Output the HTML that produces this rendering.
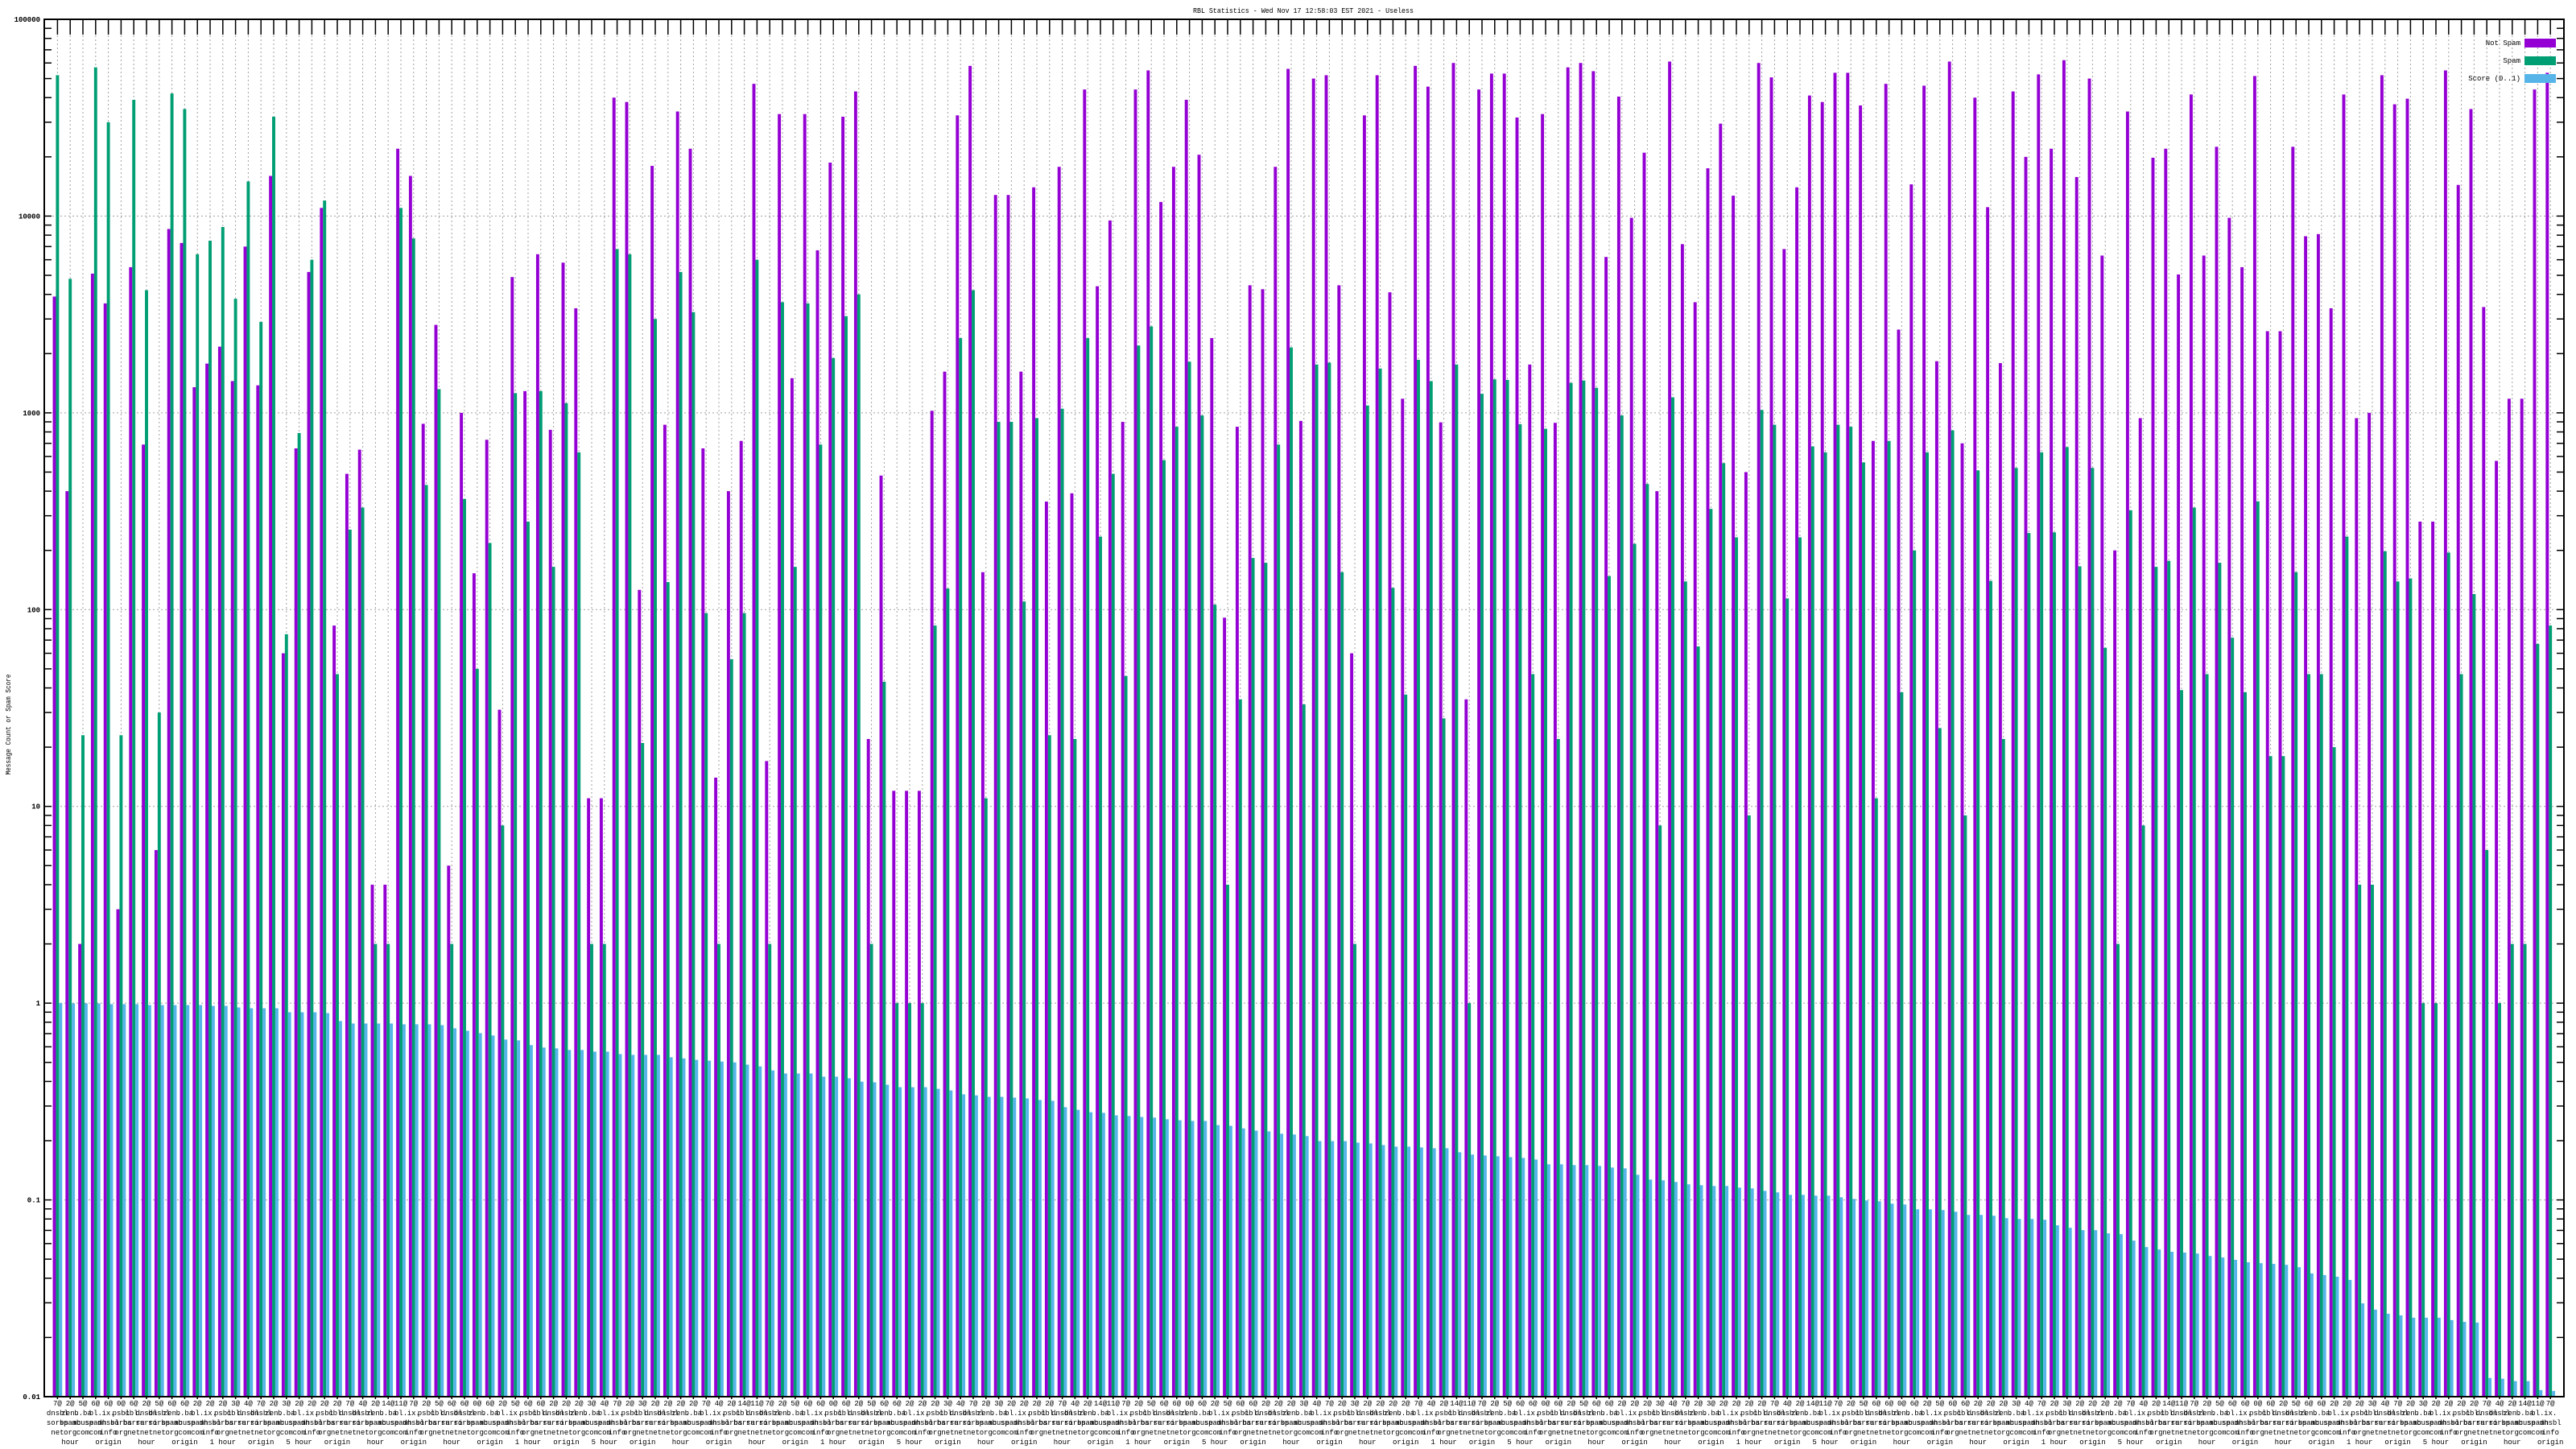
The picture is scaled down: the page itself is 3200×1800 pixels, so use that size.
<!DOCTYPE html>
<html><head><meta charset="utf-8"><title>RBL Statistics</title>
<style>
html,body{margin:0;padding:0;background:#fff;width:3200px;height:1800px;overflow:hidden}
svg{display:block}
text{font-family:"Liberation Mono",monospace;fill:#000}
</style></head>
<body>
<svg id="chart" width="3200" height="1800" viewBox="0 0 3200 1800" xmlns="http://www.w3.org/2000/svg">
<rect x="0" y="0" width="3200" height="1800" fill="#fff"/>
<text x="1619" y="16" font-size="9.5" text-anchor="middle" textLength="274" lengthAdjust="spacingAndGlyphs">RBL Statistics - Wed Nov 17 12:58:03 EST 2021 - Useless</text>
<text x="0" y="0" font-size="9" text-anchor="middle" transform="translate(13,900) rotate(-90)" textLength="125" lengthAdjust="spacingAndGlyphs">Message Count or Spam Score</text>
<g id="grid"></g>
<g id="bars"></g>
<g id="axes"></g>
<g id="xlabels"></g>
<g id="legend">
  <g>
    <text x="3131" y="56" font-size="9" text-anchor="end">Not Spam</text>
    <rect x="3136" y="48" width="39" height="11" fill="#9400d3"/>
  </g>
  <g>
    <text x="3131" y="78" font-size="9" text-anchor="end">Spam</text>
    <rect x="3136" y="70" width="39" height="11" fill="#009e73"/>
  </g>
  <g>
    <text x="3131" y="100" font-size="9" text-anchor="end">Score (0..1)</text>
    <rect x="3136" y="92" width="39" height="11" fill="#56b4e9"/>
  </g>
</g>
</svg>
<script>
const notSpam = [3900,400,2,5100,3600,3,5500,690,6,8600,7300,1350,1780,2170,1450,7000,1380,16000,60,660,5200,11000,83,490,650,4,4,22000,16000,880,2800,5,1000,153,730,31,4900,1290,6400,820,5800,3400,11,11,40000,38000,126,18000,870,34000,
22000,660,14,400,720,47000,17,33000,1500,33000,6700,18700,32000,43000,22,480,12,12,12,1025,1620,32500,58000,155,12800,12800,1620,14000,354,17800,390,44000,4400,9500,900,44000,55000,11800,17800,39000,20500,2400,91,850,4450,4250,17800,56000,910,50000,
52000,4450,60,32500,52000,4100,1180,58000,45500,895,60000,35,44000,53000,53000,31700,1760,33000,890,57000,60000,54500,6200,40500,9800,21000,400,61000,7200,3650,17500,29500,12700,500,60000,50700,6800,14000,41000,38000,53500,53500,36500,720,47000,2650,14500,46000,1830,61000,
700,40000,11100,1790,43000,20000,52500,22000,62000,15800,50000,6300,200,34000,940,19800,22000,5050,41500,6300,22500,9800,5500,51500,2600,2600,22500,7900,8100,3400,41500,940,1000,52000,37000,39500,280,280,55000,14400,35000,3450,570,1180,1180,44000,53500];
const spam = [52000,4800,23,57000,30000,23,39000,4200,30,42000,35000,6400,7500,8800,3800,15000,2900,32000,75,790,6000,12000,47,255,330,2,2,11000,7700,430,1320,2,365,50,218,8,1260,280,1290,165,1120,630,2,2,6800,6400,21,3000,138,5200,
3250,96,2,56,96,6000,2,3650,165,3600,690,1900,3100,4000,2,43,1,1,1,83,128,2400,4200,11,900,900,110,940,23,1050,22,2400,235,490,46,2200,2750,575,850,1820,970,106,4,35,183,173,690,2150,33,1760,
1800,155,2,1090,1680,129,37,1860,1450,28,1760,1,1250,1480,1470,875,47,830,22,1420,1460,1340,148,970,216,435,8,1200,139,65,325,555,233,9,1035,870,114,233,675,630,870,850,560,11,720,38,200,630,25,815,
9,510,140,22,525,245,630,247,670,166,525,64,2,320,8,165,177,39,330,47,173,72,38,355,18,18,155,47,47,20,235,4,4,198,139,144,1,1,195,47,120,6,1,2,2,67,83];
const score = [1.0,0.997,0.997,0.997,0.988,0.988,0.988,0.978,0.978,0.978,0.978,0.978,0.969,0.969,0.951,0.942,0.942,0.942,0.899,0.899,0.899,0.890,0.811,0.788,0.788,0.788,0.788,0.781,0.781,0.781,0.773,0.745,0.724,0.704,0.685,0.653,0.647,0.612,0.595,0.589,0.578,0.578,0.567,0.567,0.551,0.546,0.546,0.546,0.531,
0.524,0.515,0.510,0.505,0.500,0.487,0.477,0.455,0.439,0.439,0.439,0.423,0.423,0.415,0.399,0.396,0.385,0.374,0.374,0.374,0.367,0.360,0.344,0.340,0.334,0.334,0.331,0.328,0.322,0.319,0.296,0.287,0.279,0.277,0.269,0.267,0.264,0.262,0.257,0.254,0.252,0.252,0.240,0.238,0.231,0.225,0.223,0.217,0.215,0.211,
0.199,0.199,0.199,0.1955,0.1937,0.190,0.1865,0.1865,0.1848,0.1831,0.1831,0.1747,0.170,0.1682,0.1666,0.165,0.1635,0.1604,0.1517,0.1517,0.1503,0.1503,0.1489,0.1461,0.1447,0.1342,0.1269,0.1257,0.1234,0.120,0.1188,0.1177,0.1177,0.1155,0.1144,0.1112,0.1092,0.1061,0.1061,0.1051,0.1051,0.1031,0.1012,0.0994,0.0984,0.0957,0.0948,0.0896,0.0896,0.0888,
0.0871,0.0839,0.0839,0.0831,0.0808,0.080,0.080,0.0793,0.0743,0.0722,0.0702,0.0702,0.0676,0.0670,0.0621,0.0576,0.0560,0.0545,0.0540,0.0534,0.0519,0.0510,0.0496,0.0482,0.0477,0.0473,0.0468,0.0455,0.0423,0.0415,0.0407,0.0392,0.0298,0.0277,0.0264,0.0259,0.0252,0.0252,0.0252,0.0245,0.0240,0.0238,0.01245,0.01234,0.0120,0.0120,0.0108,0.0107];
const yTickValues = [0.01,0.1,1,10,100,1000,10000,100000];
const yTickLabels = ["0.01","0.1","1","10","100","1000","10000","100000"];
const topLabels = "7@ 2@ 5@ 6@ 6@ 0@ 6@ 2@ 5@ 6@ 6@ 2@ 2@ 2@ 3@ 4@ 7@ 2@ 3@ 2@ 2@ 2@ 2@ 7@ 4@ 2@ 14@ 11@".split(" ");
const row2 = ["dnsbl","zen.","b.ba","bl.","ix.","psbl","cbl.","dnsbl"];
const row3 = ["sorbs","spamh","barra","spamc","dnsbl","surri","abuse","sorbs"];
const row4 = ["net","org","com","net","info","org","net","com"];
const row5 = ["origin","hour","origin","5 hour","origin","1 hour","origin","hour"];

const NS="http://www.w3.org/2000/svg";
const L=55, R=3185, T=24, B=1735, DEC=244.43;
function yPos(v){ return T + (5 - Math.log10(v)) * DEC; }
function xPos(i){ return 71.4 + 15.8 * i; }
function mk(tag, attrs, parent){ const e=document.createElementNS(NS,tag); for(const k in attrs) e.setAttribute(k,attrs[k]); parent.appendChild(e); return e; }

const grid=document.getElementById('grid'), bars=document.getElementById('bars'), axes=document.getElementById('axes'), xl=document.getElementById('xlabels');

// horizontal grid
yTickValues.forEach((v,i)=>{
  if(i===0||i===yTickValues.length-1) return;
  const g=mk('line',{x1:L,x2:R,y1:yPos(v),y2:yPos(v),stroke:'#a0a0a0','stroke-width':1,'stroke-dasharray':'2,3'},grid);
  
  
});
// vertical grid
for(let i=0;i<notSpam.length;i++){
  const g=mk('line',{x1:xPos(i),x2:xPos(i),y1:T,y2:B,stroke:'#a0a0a0','stroke-width':1,'stroke-dasharray':'2,3'},grid);
  
  
}
// bars
const bw=3.9;
for(let i=0;i<notSpam.length;i++){
  const c=xPos(i);
  const series=[[notSpam[i],'#9400d3',c-5.85,'bar-not-spam'],[spam[i],'#009e73',c-1.95,'bar-spam'],[score[i],'#56b4e9',c+1.95,'bar-score']];
  series.forEach(s=>{
    const y=yPos(s[0]);
    const r=mk('rect',{x:s[2].toFixed(2),y:y.toFixed(2),width:bw,height:(B-y).toFixed(2),fill:s[1]},bars);
    
    
  });
}
// axes frame
const fr=mk('rect',{x:L,y:T,width:R-L,height:B-T,fill:'none',stroke:'#000','stroke-width':2},axes);


// y ticks
for(let d=-2; d<=5; d++){
  for(let m=1;m<=9;m++){
    if(d===5 && m>1) break;
    const v=m*Math.pow(10,d);
    const y=yPos(v);
    mk('line',{x1:L,x2:L+9,y1:y,y2:y,stroke:'#000','stroke-width':1.5},axes);
    mk('line',{x1:R,x2:R-9,y1:y,y2:y,stroke:'#000','stroke-width':1.5},axes);
  }
}
yTickValues.forEach((v,i)=>{
  const t=mk('text',{x:50,y:yPos(v)+3,'font-size':9,'text-anchor':'end','font-weight':'bold'},axes);
  t.textContent=yTickLabels[i];
  
  
});
// x ticks + labels
for(let i=0;i<notSpam.length;i++){
  const c=xPos(i);
  mk('line',{x1:c,x2:c,y1:T,y2:T+19,stroke:'#000','stroke-width':1.5},axes);
  mk('line',{x1:c,x2:c,y1:B,y2:B+3,stroke:'#000','stroke-width':1.5},axes);
  const lines=[topLabels[i%topLabels.length], row2[i%row2.length], row3[(i*3)%row3.length], row4[(i*5)%row4.length]];
  if(i%3===1) lines.push(row5[i%row5.length]);
  lines.forEach((s,j)=>{
    const t=mk('text',{x:c.toFixed(1),y:1746+j*12,'font-size':9,'text-anchor':'middle'},xl);
    t.textContent=s;
    
    
  });
}
</script>
</body></html>
